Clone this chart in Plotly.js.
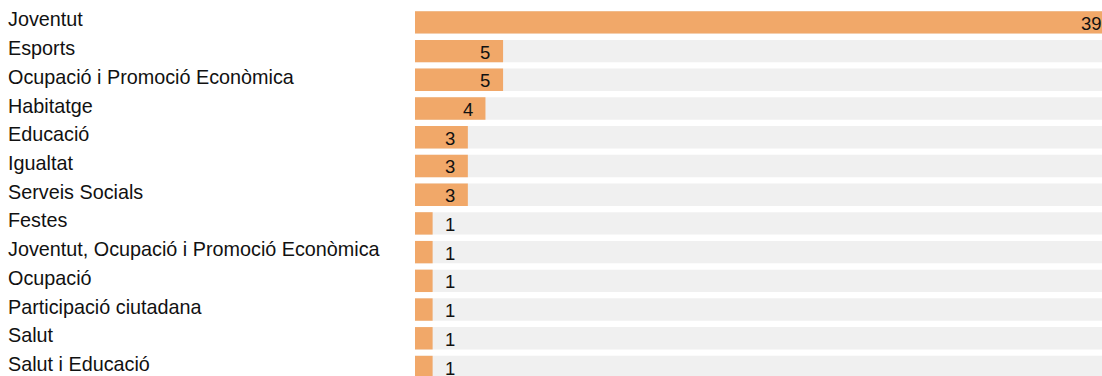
<!DOCTYPE html>
<html>
<head>
<meta charset="utf-8">
<script src="https://cdn.plot.ly/plotly-3.0.1.min.js"></script>
<style>
html,body{margin:0;padding:0;overflow:hidden;background:#fff;}
#chart{width:1102px;height:383px;}
</style>
</head>
<body>
<div id="chart"></div>
<script>
const categories = [
  "Joventut",
  "Esports",
  "Ocupació i Promoció Econòmica",
  "Habitatge",
  "Educació",
  "Igualtat",
  "Serveis Socials",
  "Festes",
  "Joventut, Ocupació i Promoció Econòmica",
  "Ocupació",
  "Participació ciutadana",
  "Salut",
  "Salut i Educació"
];
const values = [39, 5, 5, 4, 3, 3, 3, 1, 1, 1, 1, 1, 1];

const maxVal = Math.max(...values);
const FONT = "Liberation Sans, Arial, sans-serif";

const bg = {
  type: "bar", orientation: "h",
  y: categories, x: categories.map(() => maxVal),
  marker: {color: "#f0f0f0"},
  hoverinfo: "skip", showlegend: false
};
const fg = {
  type: "bar", orientation: "h",
  y: categories, x: values,
  marker: {color: "#f1a869"},
  hoverinfo: "x+y", showlegend: false
};

const annotations = [];
categories.forEach((c, i) => {
  annotations.push({
    xref: "paper", x: 0, xshift: -409, xanchor: "left",
    yref: "y", y: c, yanchor: "middle", yshift: 3,
    text: c, showarrow: false,
    font: {family: FONT, size: 19.8, color: "#111"}
  });
  const v = values[i];
  const atEnd = v >= maxVal - 1;
  const inside = v >= 3;
  annotations.push({
    xref: "x",
    x: atEnd ? v : (inside ? v - 1 : v + 1),
    xanchor: atEnd ? "right" : "center",
    xshift: atEnd ? 2 : 0,
    yref: "y", y: c, yanchor: "middle", yshift: -1,
    text: String(v), showarrow: false,
    font: {family: FONT, size: 18.5, color: "#111"}
  });
});

const layout = {
  width: 1102, height: 383,
  margin: {l: 415, r: 0, t: 8, b: 0, pad: 0},
  barmode: "overlay",
  bargap: 0.22,
  paper_bgcolor: "#fff", plot_bgcolor: "#fff",
  xaxis: {range: [0, maxVal], visible: false, fixedrange: true},
  yaxis: {autorange: "reversed", visible: false, fixedrange: true, type: "category"},
  annotations: annotations,
  showlegend: false
};

Plotly.newPlot("chart", [bg, fg], layout, {displayModeBar: false, staticPlot: true});
</script>
</body>
</html>
